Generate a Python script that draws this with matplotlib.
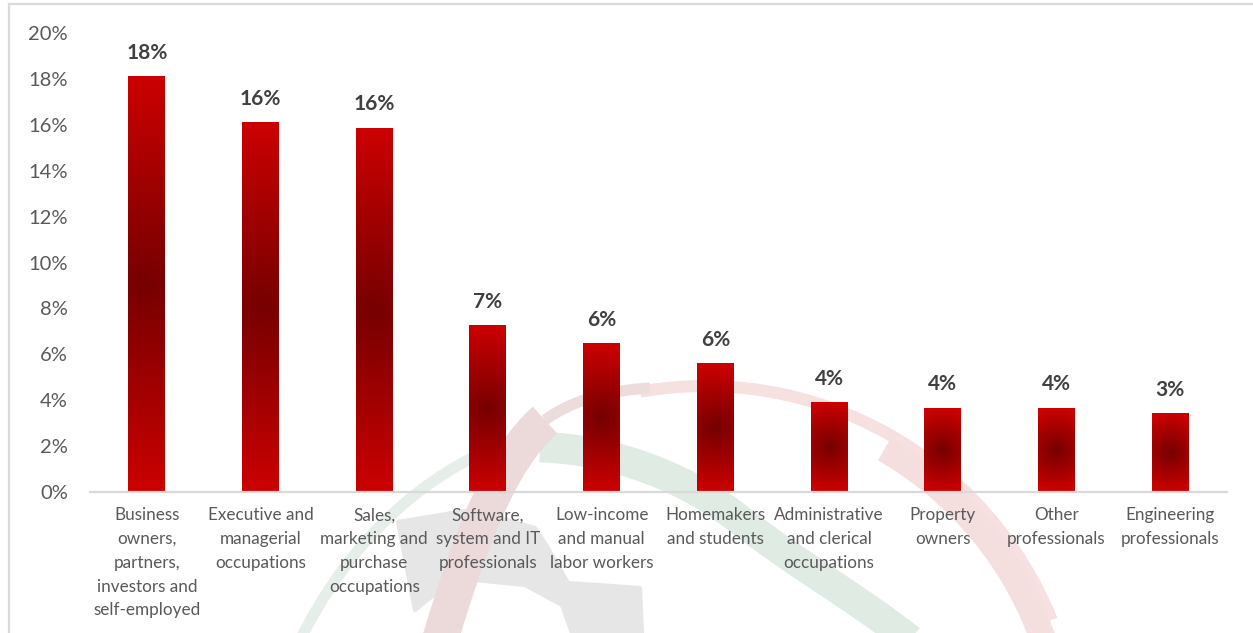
import matplotlib.pyplot as plt
import numpy as np
from matplotlib.path import Path
from matplotlib.patches import PathPatch, Wedge, Rectangle, Polygon
from matplotlib.colors import to_rgb

categories = [
    "Business\nowners,\npartners,\ninvestors and\nself-employed",
    "Executive and\nmanagerial\noccupations",
    "Sales,\nmarketing and\npurchase\noccupations",
    "Software,\nsystem and IT\nprofessionals",
    "Low-income\nand manual\nlabor workers",
    "Homemakers\nand students",
    "Administrative\nand clerical\noccupations",
    "Property\nowners",
    "Other\nprofessionals",
    "Engineering\nprofessionals",
]
shares = [18.1, 16.1, 15.85, 7.25, 6.45, 5.6, 3.9, 3.65, 3.65, 3.4]
yticks = [0, 2, 4, 6, 8, 10, 12, 14, 16, 18, 20]

plt.rcParams['font.family'] = ['Lato', 'DejaVu Sans']

W, H = 1253, 633
fig = plt.figure(figsize=(W / 100, H / 100), dpi=100)

# faint logo in the background, drawn in pixel space (y up)
bg = fig.add_axes([0, 0, 1, 1], zorder=0)
bg.set_xlim(0, W)
bg.set_ylim(0, H)
bg.axis('off')

def swoosh(pts, color, lw):
    # pts: start point followed by groups of three cubic bezier points
    verts = [(x, H - y) for x, y in pts]
    codes = [Path.MOVETO] + [Path.CURVE4] * (len(verts) - 1)
    bg.add_patch(PathPatch(Path(verts, codes), fill=False, edgecolor=color,
                           lw=lw, capstyle='butt', joinstyle='round'))

def blob(pts, color):
    bg.add_patch(Polygon([(x, H - y) for x, y in pts], closed=True,
                         facecolor=color, edgecolor=color, lw=3, joinstyle='round'))

# pink outer ring
bg.add_patch(Wedge((705, H - 760), 380, 22, 100, width=12, color='#f7e0e0', lw=0))
bg.add_patch(Wedge((705, H - 760), 372, 18, 60, width=26, color='#f5dede', lw=0))
# grey block
blob([(398, 522), (470, 510), (535, 528), (548, 548), (568, 583), (640, 588),
      (642, 633), (572, 633), (562, 605), (525, 585), (455, 578), (415, 610)],
     '#e6e6e6')
# green bands
swoosh([(300, 640), (350, 540), (430, 460), (545, 430)], '#e5eee8', 8)
swoosh([(540, 447), (620, 450), (690, 480), (740, 520),
        (790, 560), (860, 600), (910, 640)], '#dfebe3', 22)
# reddish diagonal band
swoosh([(440, 640), (470, 540), (500, 460), (545, 420)], '#ecdada', 26)
swoosh([(545, 420), (580, 395), (620, 390), (650, 388)], '#ecdcdc', 8)

# outer chart border (top and left edges visible)
fig.patches.append(Rectangle((8.5 / W, -0.1), 1.2, (H - 4.5) / H + 0.1,
                             transform=fig.transFigure, fill=False,
                             edgecolor='#d9d9d9', lw=1.6, zorder=1))

ax = fig.add_axes([90 / W, (H - 492) / H, 1137 / W, 459 / H], zorder=2)
ax.patch.set_alpha(0)

x = np.arange(len(categories))
width = 0.325
ax.set_xlim(-0.5, len(categories) - 0.5)
ax.set_ylim(0, 20)

bars = ax.bar(x, shares, width, color='none', edgecolor='none')

# radial gradient: dark red at the bar centre, bright red towards the ends
p0 = ax.transData.transform((0, 0))
p1 = ax.transData.transform((1, 1))
sx, sy = p1 - p0
c_mid = np.array(to_rgb('#760000'))
c_edge = np.array(to_rgb('#cc0000'))
for rect in bars:
    x0, w, h = rect.get_x(), rect.get_width(), rect.get_height()
    xs = np.linspace(x0, x0 + w, 60)
    ys = np.linspace(0, h, 400)
    xx, yy = np.meshgrid(xs, ys)
    r = np.hypot((xx - (x0 + w / 2)) * sx, (yy - h / 2) * sy) / (h * sy / 2)
    t = np.clip(r, 0, 1)[..., None]
    img = c_mid + (c_edge - c_mid) * t
    ax.imshow(img, extent=(x0, x0 + w, 0, h), origin='lower', aspect='auto',
              interpolation='bilinear', zorder=2)
    ax.annotate('{:.0f}%'.format(h), xy=(x0 + w / 2, h), xytext=(0, 10),
                textcoords='offset points', ha='center', va='bottom',
                fontsize=15, fontweight='bold', color='#404040')

ax.set_xlim(-0.5, len(categories) - 0.5)
ax.set_ylim(0, 20)

ax.set_yticks(yticks)
ax.set_yticklabels(['{}%'.format(v) for v in yticks], fontsize=14.5, color='#595959')
ax.set_xticks(x)
ax.set_xticklabels(categories, fontsize=12.3, color='#595959', linespacing=1.6)
ax.tick_params(axis='both', length=0)
ax.tick_params(axis='y', pad=16)
ax.tick_params(axis='x', pad=11)

for side in ['top', 'right', 'left']:
    ax.spines[side].set_visible(False)
ax.spines['bottom'].set_color('#d9d9d9')
ax.spines['bottom'].set_linewidth(1.6)

plt.savefig('out.png', dpi=100)
